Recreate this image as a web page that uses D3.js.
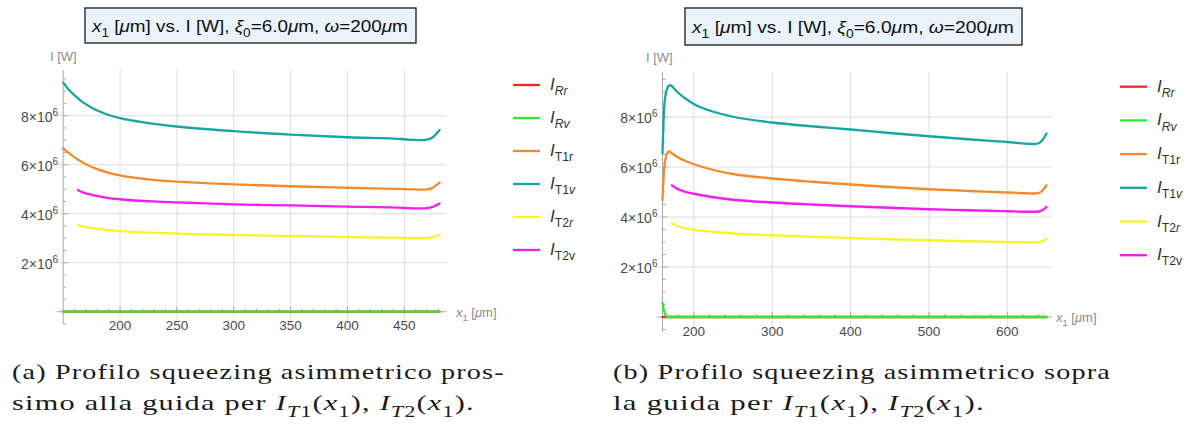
<!DOCTYPE html>
<meta charset="utf-8">
<style>
body, html {
  margin: 0;
  padding: 0;
  background: #fff;
}
svg {
  display: block;
  font-family: "Liberation Sans", Arial, sans-serif;
}
.grid { stroke: #dedede; stroke-width: 1; }
.axis { stroke: #a8a8a8; stroke-width: 1; }
.tick { stroke: #a8a8a8; stroke-width: 1; }
.ticklab { fill: #4a4a4a; font-size: 13.5px; }
.axlab { fill: #8c8c8c; font-size: 13px; }
.series { fill: none; stroke-width: 2.3; stroke-linejoin: round; stroke-linecap: round; }
.legtext { fill: #333; font-size: 16px; }
.caption { font-family: "Liberation Serif", "Times New Roman", serif; font-size: 22px; fill: #1a1a1a; letter-spacing: 0.9px; }
</style>
<body>
<script src="https://d3js.org/d3.v7.min.js"></script>
<script>

var width = 1199,
    height = 429

// values in units of 10^6 W
// (a) near the guide
var xA    = [150, 155, 160, 163, 165, 170, 180, 190, 200, 225, 250, 300, 350, 400, 450, 460, 465, 470, 475, 481]
var rrA   = [0, 0, 0, 0, 0, 0, 0, 0, 0, 0, 0, 0, 0, 0, 0, 0, 0, 0, 0, 0]
var rvA   = [0, 0, 0, 0, 0, 0, 0, 0, 0, 0, 0, 0, 0, 0, 0, 0, 0, 0, 0, 0]
var t1rA  = [6.67, 6.47, 6.30, 6.21, 6.15, 6.02, 5.82, 5.67, 5.56, 5.40, 5.31, 5.20, 5.12, 5.06, 5.00, 4.99, 4.98, 4.99, 5.06, 5.27]
var t1vA  = [9.35, 9.06, 8.83, 8.71, 8.63, 8.47, 8.21, 8.03, 7.90, 7.70, 7.56, 7.37, 7.23, 7.12, 7.04, 7.01, 7.00, 7.02, 7.12, 7.42]
var t2rA  = [null, null, null, 3.54, 3.51, 3.45, 3.38, 3.33, 3.29, 3.23, 3.19, 3.13, 3.09, 3.05, 3.01, 3.00, 3.00, 3.01, 3.04, 3.13]
var t2vA  = [null, null, null, 4.97, 4.92, 4.83, 4.72, 4.64, 4.59, 4.51, 4.46, 4.38, 4.34, 4.29, 4.24, 4.22, 4.22, 4.23, 4.28, 4.42]

// (b) above the guide
var xB    = [160, 162, 164, 166, 168, 170, 172, 175, 180, 190, 200, 225, 250, 300, 350, 400, 450, 500, 550, 600, 625, 635, 640, 645, 650]
var rrB   = [0, 0, 0, 0, 0, 0, 0, 0, 0, 0, 0, 0, 0, 0, 0, 0, 0, 0, 0, 0, 0, 0, 0, 0, 0]
var rvB   = [0.57, 0.25, 0.08, 0.02, 0, 0, 0, 0, 0, 0, 0, 0, 0, 0, 0, 0, 0, 0, 0, 0, 0, 0, 0, 0, 0]
var t1rB  = [4.67, 5.90, 6.35, 6.55, 6.62, 6.60, 6.55, 6.48, 6.38, 6.23, 6.11, 5.88, 5.72, 5.54, 5.41, 5.30, 5.20, 5.11, 5.04, 4.98, 4.95, 4.94, 4.96, 5.06, 5.27]
var t1vB  = [6.55, 8.30, 8.90, 9.15, 9.25, 9.27, 9.24, 9.13, 8.97, 8.72, 8.52, 8.21, 8.01, 7.78, 7.63, 7.50, 7.36, 7.23, 7.11, 7.00, 6.93, 6.92, 6.95, 7.08, 7.34]
var t2rB  = [null, null, null, null, null, null, 3.75, 3.70, 3.63, 3.55, 3.49, 3.40, 3.34, 3.27, 3.21, 3.16, 3.11, 3.07, 3.03, 3.00, 2.99, 2.99, 3.00, 3.04, 3.13]
var t2vB  = [null, null, null, null, null, null, 5.27, 5.20, 5.11, 5.00, 4.93, 4.79, 4.69, 4.58, 4.50, 4.43, 4.37, 4.31, 4.27, 4.23, 4.21, 4.21, 4.22, 4.28, 4.40]

var xTicksA = [200, 250, 300, 350, 400, 450]
var xTicksB = [200, 300, 400, 500, 600]
var yTicks  = [2, 4, 6, 8]

var seriesKeys = ["Rr", "Rv", "T1r", "T1v", "T2r", "T2v"]
var colors = ["#f0262a", "#33e833", "#f58a2d", "#17a6a6", "#f6f42b", "#f51cf0"]
// legend labels: [text, flags] with i = italic, s = subscript
var legendLabels = [
  [["I", "i"], ["Rr", "si"]],
  [["I", "i"], ["Rv", "si"]],
  [["I", "i"], ["T1r", "s"]],
  [["I", "i"], ["T1", "s"], ["v", "si"]],
  [["I", "i"], ["T2", "s"], ["r", "si"]],
  [["I", "i"], ["T2v", "s"]]
]
var titleParts = [["x", "i"], ["1", "s"], [" ["], ["\u03bc", "i"], ["m] vs. I [W], "], ["\u03be", "i"], ["0", "s"],
  ["=6.0"], ["\u03bc", "i"], ["m, "], ["\u03c9", "i"], ["=200"], ["\u03bc", "i"], ["m"]]
var xLabelParts = [["x", "i"], ["1", "s"], [" ["], ["\u03bc", "i"], ["m]"]]

var svg = d3.select("body").append("svg")
    .attr("width", width)
    .attr("height", height)

function rich (sel, parts, size) {
  var shift = 0
  parts.forEach(function (p) {
    var f = p[1] || ""
    var target = f.indexOf("s") >= 0 ? size * 0.3 : (f.indexOf("p") >= 0 ? -size * 0.42 : 0)
    sel.append("tspan")
        .attr("dy", target - shift)
        .style("font-size", (target ? size * 0.72 : size) + "px")
        .style("font-style", f.indexOf("i") >= 0 ? "italic" : "normal")
        .text(p[0])
    shift = target
  })
  return sel
}

// squeeze or stretch a text horizontally so it spans [x0, x1]
function fit (sel, x0, x1, y) {
  var l = sel.node().getComputedTextLength()
  sel.attr("transform", "translate(" + x0 + "," + y + ") scale(" + ((x1 - x0) / l) + ",1)")
}

function drawChart (c) {
  var x = d3.scaleLinear().domain(c.xDomain).range(c.xRange)
  var y = d3.scaleLinear().domain(c.yDomain).range(c.yRange)
  var g = svg.append("g")
  var x0 = c.xRange[0], x1 = c.xRange[1], yb = c.yRange[0], yt = c.yRange[1]
  var ox = x(c.origin[0]), oy = y(0)

  g.selectAll(".gx").data(c.xTicks).enter().append("line")
      .attr("class", "grid")
      .attr("x1", d => x(d)).attr("x2", d => x(d))
      .attr("y1", yt).attr("y2", yb)
  g.selectAll(".gy").data(yTicks).enter().append("line")
      .attr("class", "grid")
      .attr("x1", x0).attr("x2", x1)
      .attr("y1", d => y(d)).attr("y2", d => y(d))

  // axes
  g.append("line").attr("class", "axis").attr("x1", x0).attr("x2", x1).attr("y1", oy).attr("y2", oy)
  g.append("line").attr("class", "axis").attr("x1", ox).attr("x2", ox).attr("y1", yt).attr("y2", yb)

  var xMinor = d3.range(c.origin[0], c.xDomain[1], c.xMinorStep).filter(d => c.xTicks.indexOf(d) < 0 && d > c.origin[0])
  g.selectAll(".xt").data(c.xTicks.map(d => [d, 5]).concat(xMinor.map(d => [d, 3]))).enter().append("line")
      .attr("class", "tick")
      .attr("x1", d => x(d[0])).attr("x2", d => x(d[0]))
      .attr("y1", oy).attr("y2", d => oy - d[1])
  var yMinor = d3.range(-0.5, c.yDomain[1], 0.5).filter(d => yTicks.indexOf(d) < 0 && d !== 0)
  g.selectAll(".yt").data(yTicks.map(d => [d, 5]).concat(yMinor.map(d => [d, 3]))).enter().append("line")
      .attr("class", "tick")
      .attr("x1", ox).attr("x2", d => ox + d[1])
      .attr("y1", d => y(d[0])).attr("y2", d => y(d[0]))

  g.selectAll(".xl").data(c.xTicks).enter().append("text")
      .attr("class", "ticklab")
      .attr("text-anchor", "middle")
      .attr("x", d => x(d))
      .attr("y", oy + 18.5)
      .text(d => d)
  g.selectAll(".yl").data(yTicks).enter().append("text")
      .attr("class", "ticklab")
      .attr("text-anchor", "end")
      .attr("x", ox - 5)
      .attr("y", d => y(d) + 6)
      .each(function (d) { rich(d3.select(this), [[d + "\u00d710"], ["6", "p"]], 14) })

  g.append("text").attr("class", "axlab").attr("x", c.yLabel[0]).attr("y", c.yLabel[1]).text("I [W]")
  rich(g.append("text").attr("class", "axlab").attr("x", c.xLabel[0]).attr("y", c.xLabel[1]), xLabelParts, 13)

  // series
  var line = d3.line()
      .defined(d => d[1] != null)
      .x(d => x(d[0]))
      .y(d => y(d[1]))
      .curve(d3.curveMonotoneX)
  c.series.forEach(function (s, i) {
    g.append("path")
        .attr("class", "series")
        .attr("stroke", colors[i])
        .attr("d", line(c.xs.map((v, j) => [v, s[j]])))
  })

  // title
  g.append("rect")
      .attr("x", c.titleBox[0]).attr("y", c.titleBox[1])
      .attr("width", c.titleBox[2]).attr("height", c.titleBox[3])
      .attr("fill", "#eaf3fa")
      .attr("stroke", "#2a2a2a")
      .attr("stroke-width", 1.4)
  var tt = rich(g.append("text").style("fill", "#111"), titleParts, 16.5)
  fit(tt, c.titleText[0], c.titleText[1], c.titleText[2])

  // legend
  seriesKeys.forEach(function (k, i) {
    var ly = c.legend.y0 + i * c.legend.dy
    g.append("line")
        .attr("x1", c.legend.x0).attr("x2", c.legend.x1)
        .attr("y1", ly).attr("y2", ly)
        .attr("stroke", colors[i])
        .attr("stroke-width", 2.3)
    rich(g.append("text").attr("class", "legtext").attr("x", c.legend.tx).attr("y", ly + 5), legendLabels[i], 17)
  })

  // caption
  c.caption.forEach(function (ln) {
    var t = rich(svg.append("text").attr("class", "caption"), ln.parts, 22)
    fit(t, ln.x0, ln.x1, ln.y)
  })
}

function mathT (n) {
  return [["I", "i"], ["T", "si"], [n, "s"], ["("], ["x", "i"], ["1", "s"], [")"]]
}

drawChart({
  xDomain: [144.3, 487], xRange: [56.7, 446.4],
  yDomain: [-0.5, 9.87], yRange: [323.95, 69.9],
  origin: [150, 0], xTicks: xTicksA, xMinorStep: 10,
  xs: xA, series: [rrA, rvA, t1rA, t1vA, t2rA, t2vA],
  yLabel: [50, 61], xLabel: [456, 317],
  titleBox: [85, 8, 331, 35], titleText: [92, 408, 32],
  legend: {x0: 513, x1: 540, tx: 550, y0: 85, dy: 33},
  caption: [
    {parts: [["(a) Profilo squeezing asimmetrico pros-"]], x0: 12, x1: 505, y: 379},
    {parts: [["simo alla guida per "]].concat(mathT("1"), [[", "]], mathT("2"), [["."]]), x0: 12, x1: 475, y: 410}
  ]
})

drawChart({
  xDomain: [152.6, 657], xRange: [656.7, 1052],
  yDomain: [-0.58, 9.8], yRange: [331.5, 72],
  origin: [160, 0], xTicks: xTicksB, xMinorStep: 20,
  xs: xB, series: [rrB, rvB, t1rB, t1vB, t2rB, t2vB],
  yLabel: [646, 62], xLabel: [1056, 322],
  titleBox: [685, 8, 337, 37], titleText: [692, 1014, 33],
  legend: {x0: 1120, x1: 1147, tx: 1157, y0: 86.7, dy: 33.7},
  caption: [
    {parts: [["(b) Profilo squeezing asimmetrico sopra"]], x0: 613, x1: 1111, y: 379},
    {parts: [["la guida per "]].concat(mathT("1"), [[", "]], mathT("2"), [["."]]), x0: 613, x1: 985, y: 410}
  ]
})

</script>
</body>
